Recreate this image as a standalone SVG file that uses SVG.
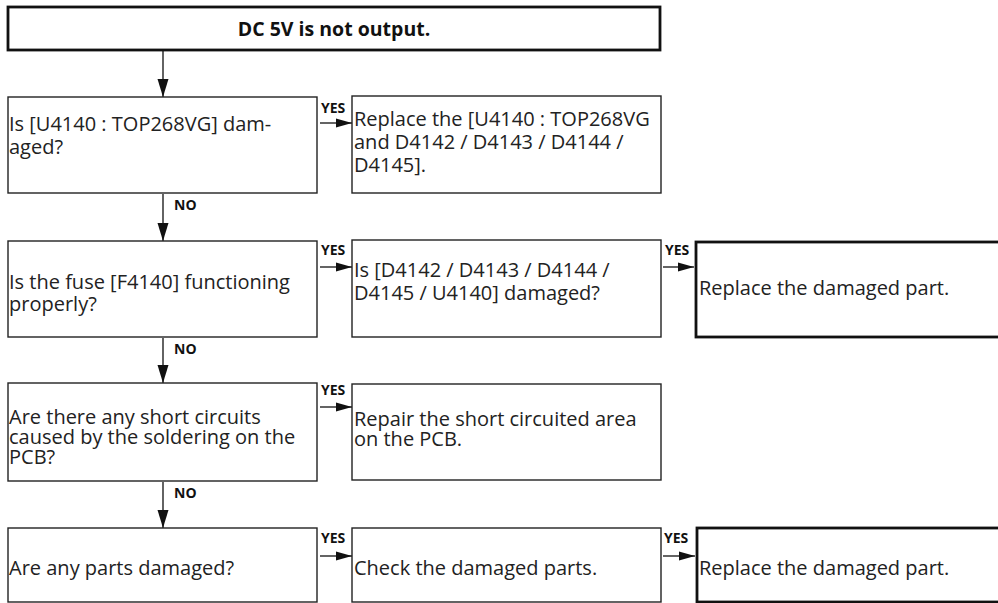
<svg xmlns="http://www.w3.org/2000/svg" width="998" height="603" viewBox="0 0 998 603">
<defs>
<style>
.box{fill:#fff;stroke:#222;stroke-width:1.4}
.thick{fill:#fff;stroke:#111;stroke-width:2.8}
.t{font-family:"Open Sans","Noto Sans","Liberation Sans",sans-serif;font-size:20px;fill:#222}
.title{font-family:"Open Sans","Noto Sans","Liberation Sans",sans-serif;font-size:19.5px;font-weight:bold;fill:#111}
.lbl{font-family:"Open Sans","Noto Sans","Liberation Sans",sans-serif;font-size:14px;font-weight:bold;fill:#111}
.ln{stroke:#222;stroke-width:1.4;fill:none}
</style>
<marker id="ad" markerUnits="userSpaceOnUse" markerWidth="18" markerHeight="12" refX="18" refY="6" orient="auto" viewBox="0 0 18 12"><path d="M0,0.5 L18,6 L0,11.5 Z" fill="#111"/></marker>
<marker id="ar" markerUnits="userSpaceOnUse" markerWidth="16" markerHeight="10" refX="16" refY="5" orient="auto" viewBox="0 0 16 10"><path d="M0,0.5 L16,5 L0,9.5 Z" fill="#111"/></marker>
</defs>

<g id="connectors">
<line class="ln" x1="163" y1="51" x2="163" y2="97" marker-end="url(#ad)"/>
<line class="ln" x1="163" y1="194" x2="163" y2="241" marker-end="url(#ad)"/>
<line class="ln" x1="163" y1="338" x2="163" y2="383" marker-end="url(#ad)"/>
<line class="ln" x1="163" y1="482" x2="163" y2="528" marker-end="url(#ad)"/>
<line class="ln" x1="320" y1="123" x2="352" y2="123" marker-end="url(#ar)"/>
<line class="ln" x1="320" y1="267" x2="352" y2="267" marker-end="url(#ar)"/>
<line class="ln" x1="663" y1="267" x2="694" y2="267" marker-end="url(#ar)"/>
<line class="ln" x1="320" y1="407" x2="352" y2="407" marker-end="url(#ar)"/>
<line class="ln" x1="320" y1="556" x2="352" y2="556" marker-end="url(#ar)"/>
<line class="ln" x1="663" y1="556" x2="695" y2="556" marker-end="url(#ar)"/>
<text class="lbl" x="321" y="113">YES</text>
<text class="lbl" x="174" y="210">NO</text>
<text class="lbl" x="321" y="255">YES</text>
<text class="lbl" x="665" y="255">YES</text>
<text class="lbl" x="174" y="354">NO</text>
<text class="lbl" x="321" y="395">YES</text>
<text class="lbl" x="174" y="498">NO</text>
<text class="lbl" x="321" y="543">YES</text>
<text class="lbl" x="664" y="543">YES</text>
</g>

<g id="start">
<rect class="thick" x="8" y="7" width="652" height="43"/>
<text class="title" x="334" y="36" text-anchor="middle">DC 5V is not output.</text>
</g>

<g id="q1">
<rect class="box" x="8" y="97" width="309" height="96"/>
<text class="t" x="9" y="131">Is [U4140 : TOP268VG] dam-</text>
<text class="t" x="9" y="154">aged?</text>
</g>
<g id="a1">
<rect class="box" x="352" y="96" width="309" height="97"/>
<text class="t" x="354" y="126">Replace the [U4140 : TOP268VG</text>
<text class="t" x="354" y="149">and D4142 / D4143 / D4144 /</text>
<text class="t" x="354" y="172">D4145].</text>
</g>

<g id="q2">
<rect class="box" x="8" y="241" width="309" height="96"/>
<text class="t" x="9" y="289">Is the fuse [F4140] functioning</text>
<text class="t" x="9" y="311">properly?</text>
</g>
<g id="q2b">
<rect class="box" x="352" y="240" width="309" height="97"/>
<text class="t" x="354" y="277">Is [D4142 / D4143 / D4144 /</text>
<text class="t" x="354" y="300">D4145 / U4140] damaged?</text>
</g>
<g id="a2">
<rect class="thick" x="696" y="242" width="306" height="95"/>
<text class="t" x="699" y="295">Replace the damaged part.</text>
</g>

<g id="q3">
<rect class="box" x="8" y="383" width="309" height="98"/>
<text class="t" x="9" y="424">Are there any short circuits</text>
<text class="t" x="9" y="444">caused by the soldering on the</text>
<text class="t" x="9" y="464">PCB?</text>
</g>
<g id="a3">
<rect class="box" x="352" y="384" width="309" height="96"/>
<text class="t" x="354" y="426">Repair the short circuited area</text>
<text class="t" x="354" y="446">on the PCB.</text>
</g>

<g id="q4">
<rect class="box" x="8" y="528" width="309" height="74"/>
<text class="t" x="9" y="575">Are any parts damaged?</text>
</g>
<g id="a4">
<rect class="box" x="352" y="528" width="309" height="74"/>
<text class="t" x="354" y="575">Check the damaged parts.</text>
</g>
<g id="a4b">
<rect class="thick" x="697" y="528" width="305" height="74"/>
<text class="t" x="699" y="575">Replace the damaged part.</text>
</g>
</svg>
